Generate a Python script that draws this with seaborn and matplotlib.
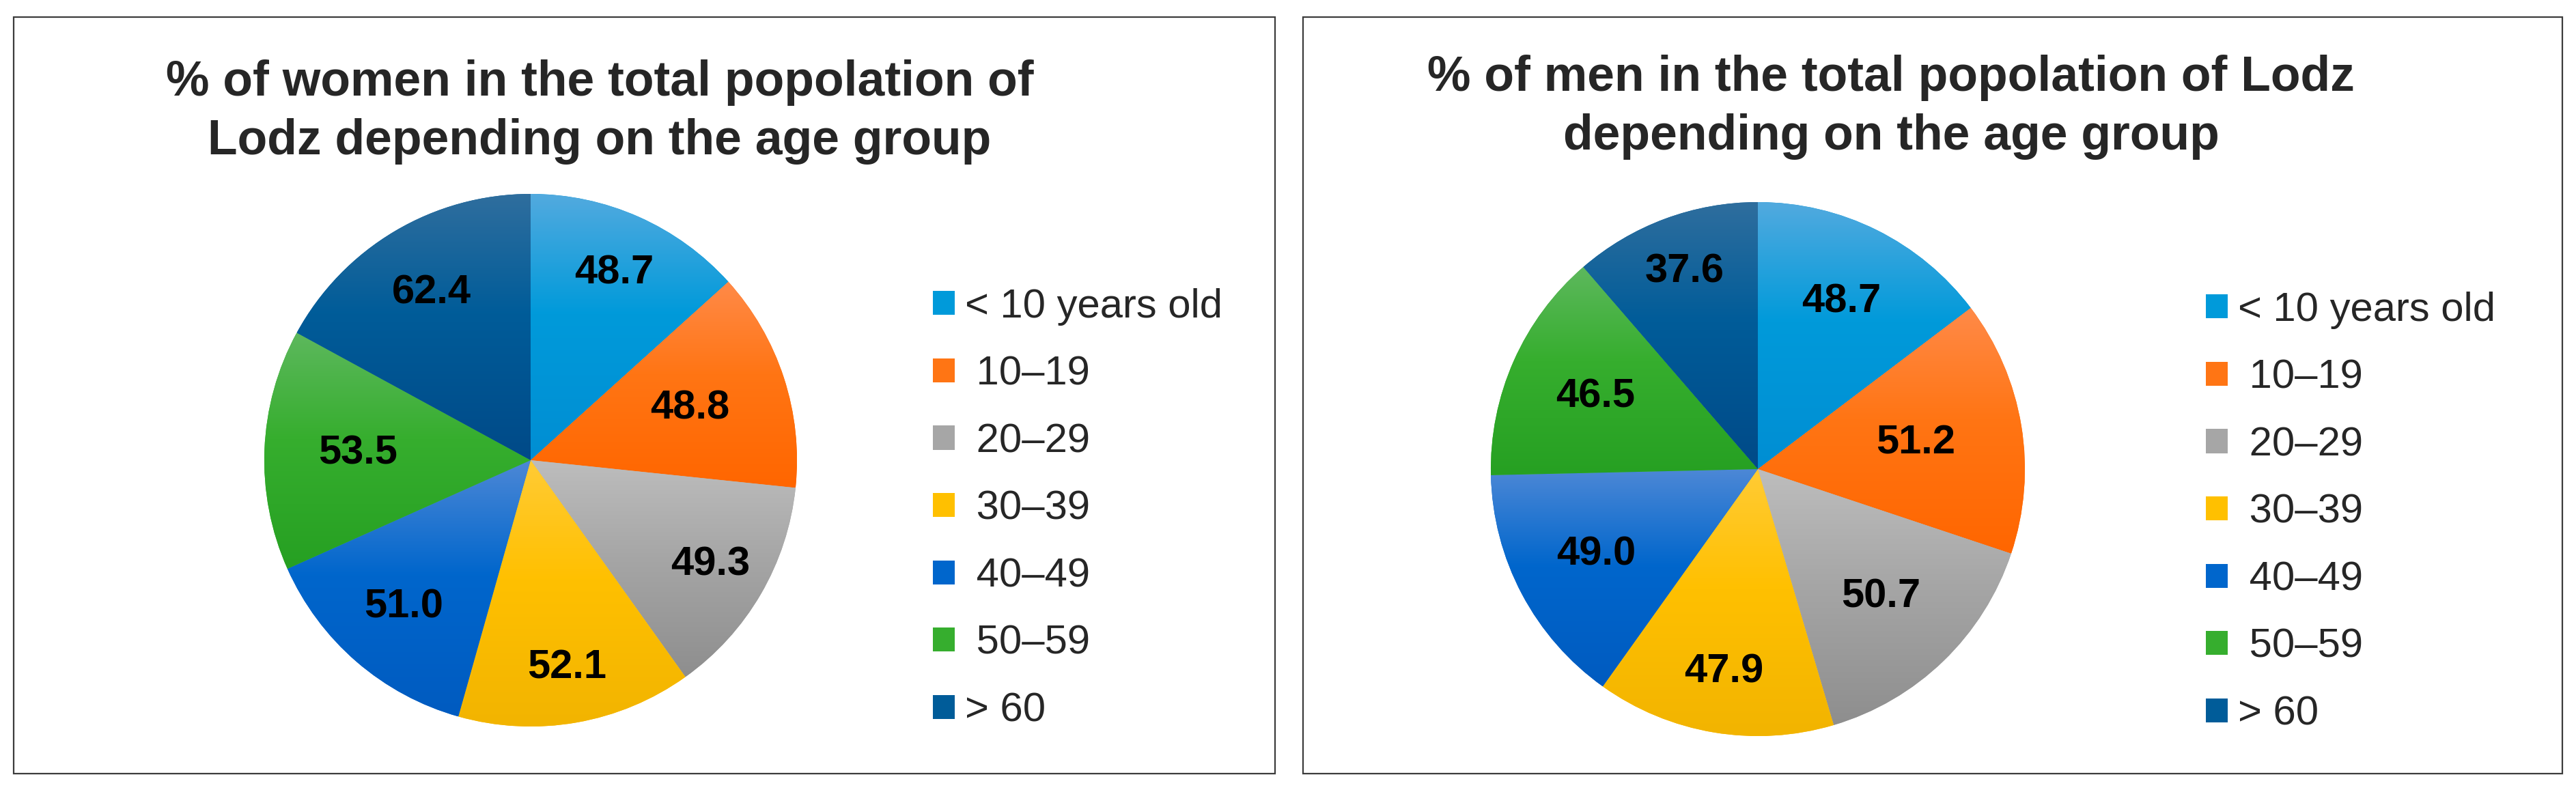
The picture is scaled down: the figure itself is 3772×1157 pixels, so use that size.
import numpy as np
import matplotlib
matplotlib.use("Agg")
import matplotlib.pyplot as plt
import seaborn as sns
from matplotlib.patches import Rectangle
from matplotlib.colors import LinearSegmentedColormap

# ---------------- data ----------------
age_groups = ["< 10 years old", " 10\u201319", " 20\u201329", " 30\u201339", " 40\u201349", " 50\u201359", "> 60"]
women_values = [48.7, 48.8, 49.3, 52.1, 51.0, 53.5, 62.4]
men_values = [48.7, 51.2, 50.7, 47.9, 49.0, 46.5, 37.6]
women_title = "% of women in the total popolation of\nLodz depending on the age group"
men_title = "% of men in the total popolation of Lodz\ndepending on the age group"

# base colours and gradient stops (top, middle, bottom)
base_colors = ["#009ADA", "#FF7514", "#A6A6A6", "#FFC000", "#0066CC", "#36AE2E", "#005C99"]
top_colors = ["#52AADF", "#FF8A48", "#BDBDBD", "#FFCB35", "#4D88D6", "#5DB85D", "#2F6E9E"]
bottom_colors = ["#008ED3", "#FF6600", "#8E8E8E", "#F2B400", "#005BC0", "#26A022", "#004A88"]

# label radial positions (fraction of radius), as placed in the reference
women_label_r = [0.77, 0.63, 0.78, 0.79, 0.73, 0.65, 0.73]
men_label_r = [0.70, 0.60, 0.665, 0.77, 0.685, 0.665, 0.79]

# ---------------- style ----------------
sns.set_theme(style="white")
plt.rcParams["font.family"] = ["Liberation Sans", "DejaVu Sans"]
palette = sns.color_palette(base_colors)

W, H = 3773, 1157
fig = plt.figure(figsize=(W / 100, H / 100), dpi=100)
fig.patch.set_facecolor("white")


def fx(x):
    return x / W


def fy(y):
    return 1 - y / H


def panel_box(x0, y0, x1, y1):
    fig.patches.append(Rectangle((fx(x0), fy(y1)), fx(x1) - fx(x0), fy(y0) - fy(y1),
                                 transform=fig.transFigure, fill=False,
                                 edgecolor="#3c3c3c", linewidth=1.6, zorder=0))


def draw_pie(values, label_r, cx, cy, r, title, title_x, title_y, leg_x, leg_y):
    ax = fig.add_axes([fx(cx - r), fy(cy + r), 2 * r / W, 2 * r / H])
    wedges, _ = ax.pie(values, colors=palette, startangle=90, counterclock=False,
                       radius=1.0, wedgeprops=dict(edgecolor="none", linewidth=0))
    grad = np.linspace(0, 1, 256).reshape(-1, 1)
    for w, ct, cm, cb in zip(wedges, top_colors, base_colors, bottom_colors):
        ext = w.get_path().get_extents()
        cmap = LinearSegmentedColormap.from_list("g", [(0, ct), (0.45, cm), (1, cb)])
        im = ax.imshow(grad, extent=(ext.x0, ext.x1, ext.y0, ext.y1), origin="upper",
                       cmap=cmap, aspect="auto", interpolation="bilinear",
                       zorder=w.get_zorder() + 0.5)
        im.set_clip_path(w)
    for w, v, lr in zip(wedges, values, label_r):
        ang = np.deg2rad((w.theta1 + w.theta2) / 2)
        ax.text(lr * np.cos(ang), lr * np.sin(ang), f"{v:.1f}", ha="center", va="center",
                fontsize=43, fontweight="bold", color="black", zorder=10)
    ax.set_xlim(-1, 1)
    ax.set_ylim(-1, 1)
    ax.set_axis_off()
    fig.text(fx(title_x), fy(title_y), title, ha="center", va="center", fontsize=51.5,
             fontweight="bold", linespacing=1.33)
    handles = [Rectangle((0, 0), 1, 1, facecolor=c, edgecolor="none") for c in palette]
    fig.legend(handles, age_groups, loc="upper left", bbox_to_anchor=(fx(leg_x), fy(leg_y)),
               bbox_transform=fig.transFigure, frameon=False, fontsize=43,
               handlelength=0.53, handleheight=0.53, handletextpad=0.25,
               labelspacing=0.73, borderpad=0, borderaxespad=0)


panel_box(20, 25, 1867, 1133)
panel_box(1908, 25, 3752, 1133)

draw_pie(women_values, women_label_r, 777, 674, 390, women_title, 878, 164, 1366, 422)
draw_pie(men_values, men_label_r, 2574, 687, 391, men_title, 2769, 157, 3230, 427)

fig.savefig("out.png", dpi=100, facecolor="white")
